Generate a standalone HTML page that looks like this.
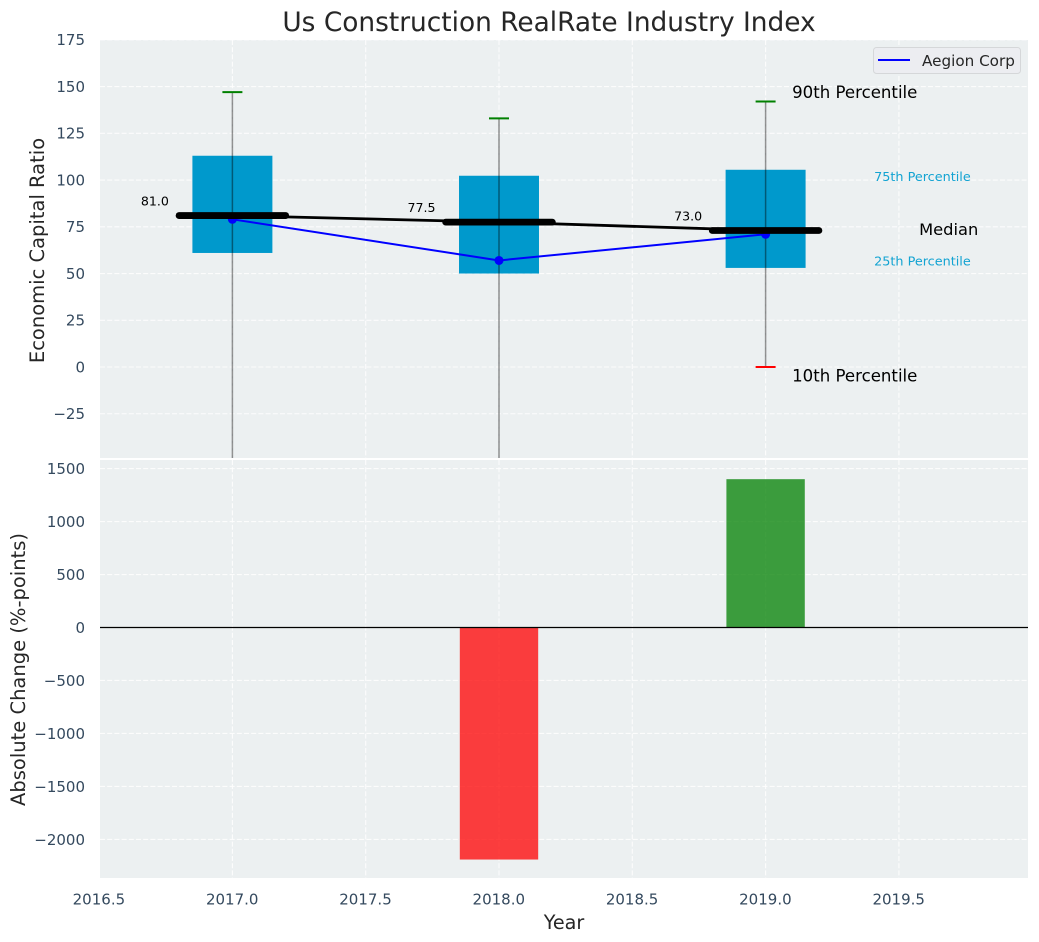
<!DOCTYPE html>
<html lang="en">
<head>
<meta charset="utf-8">
<title>Us Construction RealRate Industry Index</title>
<style>
html,body{margin:0;padding:0;background:#fff;width:1039px;height:942px;overflow:hidden}
svg{display:block}
text{font-family:"DejaVu Sans",sans-serif}
</style>
</head>
<body>
<svg id="chart" width="1039" height="942" viewBox="0 0 1039 942" xmlns="http://www.w3.org/2000/svg">
  <defs>
    <clipPath id="clip-top"><rect x="100" y="40" width="928" height="418"/></clipPath>
    <clipPath id="clip-bottom"><rect x="100" y="460" width="928" height="418"/></clipPath>
  </defs>
  <rect x="100" y="40" width="928" height="418" fill="#ecf0f1"/>
  <rect x="100" y="460" width="928" height="418" fill="#ecf0f1"/>
  <g id="grid"></g>
  <g id="top-marks" clip-path="url(#clip-top)"></g>
  <g id="bottom-marks" clip-path="url(#clip-bottom)"></g>
  <g id="axes"></g>
  <g id="notes"></g>
  <text x="549" y="31" text-anchor="middle" font-size="26.4" fill="#262626">Us Construction RealRate Industry Index</text>
  <text x="564" y="929" text-anchor="middle" font-size="19.2" fill="#262626">Year</text>
  <text transform="translate(44 250.5) rotate(-90)" text-anchor="middle" font-size="19.5" fill="#262626">Economic Capital Ratio</text>
  <text transform="translate(25 669.5) rotate(-90)" text-anchor="middle" font-size="19.5" fill="#262626">Absolute Change (%-points)</text>
  <g>
    <rect x="873.5" y="47.5" width="147" height="26" rx="3" fill="#ecedf1" stroke="#d5d7d9"/>
    <line x1="878" y1="60" x2="910" y2="60" stroke="#0000ff" stroke-width="2"/>
    <text x="922" y="66" font-size="15.2" fill="#262626">Aegion Corp</text>
  </g>
</svg>
<script>
const years = [2017, 2018, 2019];
const p90 = [147, 133, 142];
const p75 = [113, 102.3, 105.5];
const medians = [81, 77.5, 73];
const p25 = [61, 50, 53];
const p10 = [-60, -60, 0];
const companyValues = [79, 57, 71];
const changeValues = [0, -2190, 1400];
const xTicks = [2016.5, 2017, 2017.5, 2018, 2018.5, 2019, 2019.5];
const topYTicks = [175, 150, 125, 100, 75, 50, 25, 0, -25];
const bottomYTicks = [1500, 1000, 500, 0, -500, -1000, -1500, -2000];

const NS = 'http://www.w3.org/2000/svg';
const xScale = v => 232.4 + (v - 2017) * 266.6;
const yTop = v => 367 - v * 1.8695;
const yBottom = v => 627.5 - v * 0.10595;
const fmtNeg = v => (v < 0 ? '\u2212' + Math.abs(v) : String(v));

function mk(parent, tag, attrs, txt) {
  const e = document.createElementNS(NS, tag);
  for (const k in attrs) e.setAttribute(k, attrs[k]);
  if (txt !== undefined) e.textContent = txt;
  document.getElementById(parent).appendChild(e);
  return e;
}

const gridStyle = {stroke: '#ffffff', 'stroke-width': 1.1, 'stroke-dasharray': '5 2.2', opacity: 0.85};
xTicks.forEach(t => {
  const a = mk('grid', 'line', {x1: xScale(t), x2: xScale(t), y1: 40, y2: 458, ...gridStyle});
  
  
  const b = mk('grid', 'line', {x1: xScale(t), x2: xScale(t), y1: 460, y2: 878, ...gridStyle});
  
  
  const l = mk('axes', 'text', {x: xScale(t) - 0.2, y: 904.5, 'text-anchor': 'middle', 'font-size': 15, fill: '#34495e'}, t.toFixed(1));
  
  
});
topYTicks.forEach(t => {
  const g = mk('grid', 'line', {x1: 100, x2: 1028, y1: yTop(t), y2: yTop(t), ...gridStyle});
  
  
  const l = mk('axes', 'text', {x: 85, y: yTop(t) + 5.4, 'text-anchor': 'end', 'font-size': 15, fill: '#34495e'}, fmtNeg(t));
  
  
});
bottomYTicks.forEach(t => {
  const g = mk('grid', 'line', {x1: 100, x2: 1028, y1: yBottom(t), y2: yBottom(t), ...gridStyle});
  
  
  const l = mk('axes', 'text', {x: 85, y: yBottom(t) + 5.4, 'text-anchor': 'end', 'font-size': 15, fill: '#34495e'}, fmtNeg(t));
  
  
});

const boxHalf = 0.15;
const medianHalf = 0.2;
const capHalf = 0.0375;

years.forEach((yr, i) => {
  const box = mk('top-marks', 'rect', {
    x: xScale(yr - boxHalf), width: xScale(yr + boxHalf) - xScale(yr - boxHalf),
    y: yTop(p75[i]), height: yTop(p25[i]) - yTop(p75[i]), fill: '#0099cc'
  });
  
  
});
years.forEach((yr, i) => {
  const w = mk('top-marks', 'line', {x1: xScale(yr), x2: xScale(yr), y1: yTop(p90[i]), y2: yTop(p10[i]), stroke: '#000000', 'stroke-opacity': 0.42, 'stroke-width': 1.5});
  
  
  const hi = mk('top-marks', 'line', {x1: xScale(yr - capHalf), x2: xScale(yr + capHalf), y1: yTop(p90[i]), y2: yTop(p90[i]), stroke: '#008000', 'stroke-width': 2});
  
  
  const lo = mk('top-marks', 'line', {x1: xScale(yr - capHalf), x2: xScale(yr + capHalf), y1: yTop(p10[i]), y2: yTop(p10[i]), stroke: '#ff0000', 'stroke-width': 2});
  
  
});

const companyLine = mk('top-marks', 'polyline', {
  points: years.map((yr, i) => xScale(yr) + ',' + yTop(companyValues[i])).join(' '),
  fill: 'none', stroke: '#0000ff', 'stroke-width': 2
});


years.forEach((yr, i) => {
  const c = mk('top-marks', 'circle', {cx: xScale(yr), cy: yTop(companyValues[i]), r: 4.5, fill: '#0000ff'});
  
  
});

const medianLine = mk('top-marks', 'polyline', {
  points: years.map((yr, i) => xScale(yr) + ',' + yTop(medians[i])).join(' '),
  fill: 'none', stroke: '#000000', 'stroke-width': 2.8
});


years.forEach((yr, i) => {
  const m = mk('top-marks', 'line', {
    x1: xScale(yr - medianHalf), x2: xScale(yr + medianHalf), y1: yTop(medians[i]), y2: yTop(medians[i]),
    stroke: '#000000', 'stroke-width': 6.8, 'stroke-linecap': 'round'
  });
  
  
  const t = mk('notes', 'text', {x: xScale(yr) - 77.5, y: yTop(medians[i]) - 10, 'text-anchor': 'middle', 'font-size': 12.6, fill: '#000000'}, medians[i].toFixed(1));
  
  
});

years.forEach((yr, i) => {
  if (changeValues[i] === 0) return;
  const v = changeValues[i];
  const top = Math.min(yBottom(v), yBottom(0));
  const bar = mk('bottom-marks', 'rect', {
    x: xScale(yr - 0.147), width: xScale(yr + 0.147) - xScale(yr - 0.147),
    y: top, height: Math.abs(yBottom(v) - yBottom(0)),
    fill: v < 0 ? '#ff0000' : '#008000', 'fill-opacity': 0.75
  });
  
  
});
const zero = mk('bottom-marks', 'line', {x1: 100, x2: 1028, y1: yBottom(0), y2: yBottom(0), stroke: '#000000', 'stroke-width': 1.2});



const last = years.length - 1;
const lastX = xScale(years[last]);
const n90 = mk('notes', 'text', {x: lastX + 26.5, y: yTop(p90[last]) - 3.5, 'font-size': 16.6, fill: '#000000'}, '90th Percentile');


const n75 = mk('notes', 'text', {x: lastX + 108.5, y: yTop(p75[last]) + 11, 'font-size': 12.8, fill: '#12a3d2'}, '75th Percentile');


const nMed = mk('notes', 'text', {x: lastX + 153.5, y: yTop(medians[last]) + 4.5, 'font-size': 16.3, fill: '#000000'}, 'Median');


const n25 = mk('notes', 'text', {x: lastX + 108.5, y: yTop(p25[last]) - 2.6, 'font-size': 12.8, fill: '#12a3d2'}, '25th Percentile');


const n10 = mk('notes', 'text', {x: lastX + 26.5, y: yTop(p10[last]) + 14.5, 'font-size': 16.6, fill: '#000000'}, '10th Percentile');


</script>
</body>
</html>
